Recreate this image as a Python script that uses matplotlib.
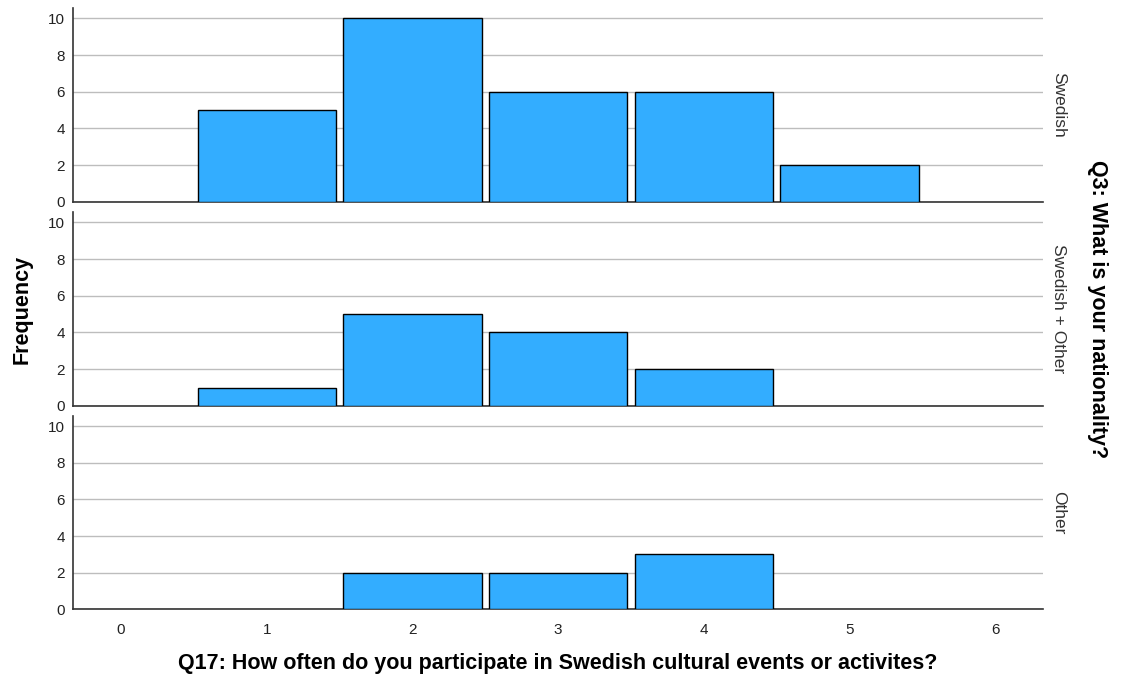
import matplotlib.pyplot as plt
import numpy as np

plt.rcParams['font.family'] = ['Liberation Sans', 'DejaVu Sans']

# Response values (x) and counts per nationality group
categories = [0, 1, 2, 3, 4, 5, 6]
groups = ['Swedish', 'Swedish + Other', 'Other']
swedish = [0, 5, 10, 6, 6, 2, 0]
swedish_other = [0, 1, 5, 4, 2, 0, 0]
other = [0, 0, 2, 2, 3, 0, 0]
counts = [swedish, swedish_other, other]

fig = plt.figure(figsize=(11.24, 6.8), dpi=100)

# panel bottoms/heights in figure fractions
left, width = 0.065, 0.863
panels = [(0.703, 0.285), (0.403, 0.285), (0.104, 0.284)]

axes = []
for (bottom, height), name, vals in zip(panels, groups, counts):
    ax = fig.add_axes([left, bottom, width, height])
    x = np.array(categories)
    v = np.array(vals)
    mask = v > 0
    ax.bar(x[mask], v[mask], width=0.95, color='#33adff', edgecolor='black',
           linewidth=1.0, zorder=3)
    ax.set_xlim(-0.33, 6.33)
    ax.set_ylim(0, 10.55)
    ax.set_yticks([0, 2, 4, 6, 8, 10])
    ax.set_xticks(categories)
    ax.grid(axis='y', color='#bdbdbd', linewidth=1.0, zorder=0)
    ax.set_axisbelow(True)
    for s in ['top', 'right']:
        ax.spines[s].set_visible(False)
    ax.spines['left'].set_color('#333333')
    ax.spines['bottom'].set_color('#333333')
    ax.spines['left'].set_linewidth(1.2)
    ax.spines['bottom'].set_linewidth(1.2)
    ax.tick_params(axis='both', length=0, labelsize=11, colors='#222222', pad=6)
    ax.tick_params(axis='x', pad=10)
    # facet label on the right
    ax.text(1.008, 0.5, name, transform=ax.transAxes, rotation=-90,
            ha='left', va='center', fontsize=12.5, color='#333333')
    axes.append(ax)

for ax in axes[:-1]:
    ax.tick_params(axis='x', labelbottom=False)

fig.text(0.496, 0.025, 'Q17: How often do you participate in Swedish cultural events or activites?',
         ha='center', va='center', fontsize=15.5, fontweight='bold')
fig.text(0.02, 0.545, 'Frequency', rotation=90, ha='center', va='center',
         fontsize=15.5, fontweight='bold')
fig.text(0.976, 0.545, 'Q3: What is your nationality?', rotation=-90, ha='center',
         va='center', fontsize=15.5, fontweight='bold')

plt.savefig('out.png', dpi=100)
plt.close()
